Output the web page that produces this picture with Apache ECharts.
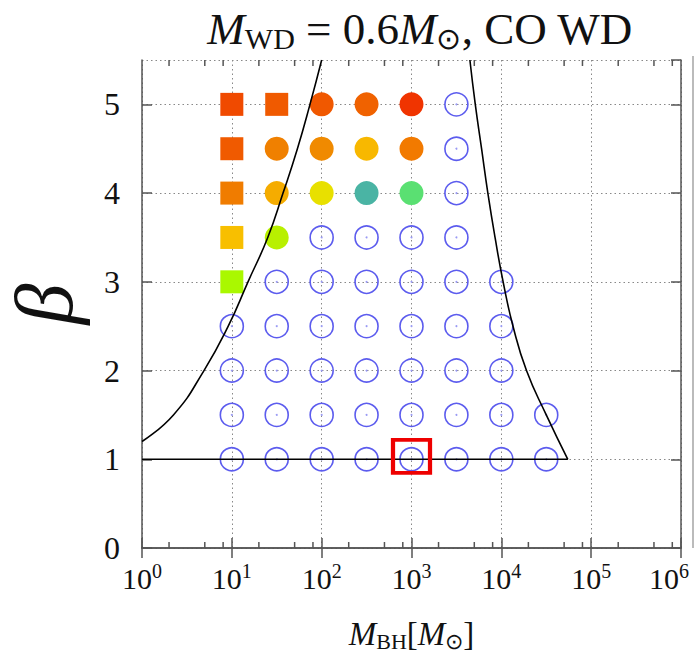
<!DOCTYPE html>
<html>
<head>
<meta charset="utf-8">
<script src="https://cdn.jsdelivr.net/npm/echarts@6/dist/echarts.min.js"></script>
<style>
html, body { margin: 0; padding: 0; background: #fff; }
#main { width: 697px; height: 665px; }
</style>
</head>
<body>
<div id="main"></div>
<script>
var chartDom = document.getElementById('main');
var myChart = echarts.init(chartDom, null, { renderer: 'svg' });
var option;

const FONT = 'Liberation Serif';

// tick labels
const yTickLabels = [0, 1, 2, 3, 4, 5];

// filled squares [M_BH, beta] and their colours
const squarePoints = [[10, 5], [31.6, 5], [10, 4.5], [10, 4], [10, 3.5], [10, 3]];
const squareColors = ['#f04a00', '#f05a00', '#f05a00', '#f07c00', '#f8bf00', '#aaf800'];

// filled circles [M_BH, beta] and their colours
const filledPoints = [
    [100, 5], [316, 5], [1000, 5],
    [31.6, 4.5], [100, 4.5], [316, 4.5], [1000, 4.5],
    [31.6, 4], [100, 4], [316, 4], [1000, 4],
    [31.6, 3.5]
];
const filledColors = [
    '#f05800', '#f06200', '#f03400',
    '#f08000', '#f08a00', '#f8b800', '#f27a00',
    '#f5ac00', '#e8e000', '#4ab4a4', '#5ae072',
    '#b8f000'
];

// open circles [M_BH, beta]
const openPoints = [
    [3162, 5], [3162, 4.5], [3162, 4],
    [100, 3.5], [316, 3.5], [1000, 3.5], [3162, 3.5],
    [31.6, 3], [100, 3], [316, 3], [1000, 3], [3162, 3], [10000, 3],
    [10, 2.5], [31.6, 2.5], [100, 2.5], [316, 2.5], [1000, 2.5], [3162, 2.5], [10000, 2.5],
    [10, 2], [31.6, 2], [100, 2], [316, 2], [1000, 2], [3162, 2], [10000, 2],
    [10, 1.5], [31.6, 1.5], [100, 1.5], [316, 1.5], [1000, 1.5], [3162, 1.5], [10000, 1.5], [31623, 1.5],
    [10, 1], [31.6, 1], [100, 1], [316, 1], [1000, 1], [3162, 1], [10000, 1], [31623, 1]
];

// highlighted run
const highlightPoint = [[1000, 1]];

// boundary curves, read as [log10 M_BH, beta]
const leftCurve = [
    [0, 1.2], [0.35, 1.5], [0.69, 2.0], [0.96, 2.5], [1.18, 3.0],
    [1.4, 3.5], [1.57, 4.0], [1.73, 4.5], [1.87, 5.0], [2.0, 5.5]
];
const rightCurve = [
    [3.65, 5.5], [3.71, 5.0], [3.78, 4.5], [3.85, 4.0], [3.93, 3.5],
    [4.02, 3.0], [4.13, 2.5], [4.28, 2.0], [4.5, 1.5], [4.74, 1.0]
];
const bottomLine = [[0, 1], [4.74, 1]];

// minor tick positions on the x axis
const minorTickMasses = [];
[1, 10, 100, 1000, 10000, 100000].forEach(function (d) {
    [2, 5, 8].forEach(function (m) { minorTickMasses.push(d * m); });
});

const fromLog = function (arr) {
    return arr.map(function (p) { return [Math.pow(10, p[0]), p[1]]; });
};

const axisColor = '#555';
const gridLine = { show: true, lineStyle: { color: '#888', width: 1, type: [1.5, 3] } };

option = {
    animation: false,
    backgroundColor: '#fff',
    title: {
        text: '{i|M}{sub|WD}{n| = 0.6}{i|M}{sub|⊙}{n|, CO WD}',
        left: 415,
        top: 0,
        textAlign: 'center',
        textStyle: {
            fontWeight: 'normal',
            rich: {
                i: { fontFamily: FONT, fontStyle: 'italic', fontWeight: 'normal', fontSize: 45, color: '#111' },
                n: { fontFamily: FONT, fontWeight: 'normal', fontSize: 45, color: '#111' },
                sub: { fontFamily: FONT, fontWeight: 'normal', fontSize: 30, color: '#111', padding: [18, 0, 0, 0] }
            }
        }
    },
    grid: { left: 142, right: 16, top: 60, bottom: 117, containLabel: false, outerBoundsMode: 'none' },
    xAxis: [
        {
            type: 'log',
            logBase: 10,
            min: 1,
            max: 1e6,
            splitNumber: 6,
            name: '{i|M}{sub|BH}{n|[}{i|M}{sub|⊙}{n|]}',
            nameLocation: 'middle',
            nameGap: 68,
            nameTextStyle: {
                rich: {
                    i: { fontFamily: FONT, fontStyle: 'italic', fontSize: 33, color: '#111' },
                    n: { fontFamily: FONT, fontSize: 33, color: '#111' },
                    sub: { fontFamily: FONT, fontSize: 22, color: '#111', padding: [14, 0, 0, 0] }
                }
            },
            axisLine: { lineStyle: { color: axisColor, width: 1.5 } },
            axisTick: { inside: true, length: 10, lineStyle: { color: axisColor, width: 1.5 } },
            splitLine: gridLine,
            axisLabel: {
                margin: 13,
                formatter: function (v) {
                    const e = Math.round(Math.log10(v));
                    // the last label is nudged left so it stays inside the page
                    return '{b|10}{s|' + e + '}' + (e === 6 ? '{pad|}' : '');
                },
                rich: {
                    b: { fontFamily: FONT, fontSize: 30, color: '#111' },
                    s: { fontFamily: FONT, fontSize: 20, color: '#111', padding: [0, 0, 15, 0] },
                    pad: { width: 24 }
                }
            }
        },
        {
            type: 'log',
            logBase: 10,
            min: 1,
            max: 1e6,
            splitNumber: 6,
            position: 'top',
            axisLine: { lineStyle: { color: axisColor, width: 1.5 } },
            axisTick: { inside: true, length: 10, lineStyle: { color: axisColor, width: 1.5 } },
            axisLabel: { show: false },
            splitLine: { show: false }
        }
    ],
    yAxis: [
        {
            type: 'value',
            min: 0,
            max: 5.5,
            interval: 1,
            name: 'β',
            nameLocation: 'middle',
            nameGap: 56,
            nameTextStyle: { fontFamily: FONT, fontStyle: 'italic', fontSize: 82, lineHeight: 84, color: '#111' },
            axisLine: { lineStyle: { color: axisColor, width: 1.5 } },
            axisTick: { inside: true, length: 10, lineStyle: { color: axisColor, width: 1.5 } },
            splitLine: gridLine,
            axisLabel: {
                margin: 22,
                showMaxLabel: false,
                fontFamily: FONT,
                fontSize: 32,
                color: '#111',
                formatter: function (v) { return yTickLabels.indexOf(v) >= 0 ? String(v) : ''; }
            }
        },
        {
            type: 'value',
            min: 0,
            max: 5.5,
            interval: 1,
            position: 'right',
            axisLine: { lineStyle: { color: axisColor, width: 1.5 } },
            axisTick: { inside: true, length: 10, lineStyle: { color: axisColor, width: 1.5 } },
            axisLabel: { show: false },
            splitLine: { show: false }
        }
    ],
    graphic: [
        {
            type: 'line',
            shape: { x1: 693, y1: 56, x2: 693, y2: 548 },
            style: { stroke: '#bbb', lineWidth: 2 }
        }
    ],
    series: [
        {
            type: 'custom',
            silent: true,
            data: minorTickMasses.map(function (m) { return [m, 0]; }),
            renderItem: function (params, api) {
                const b = api.coord([api.value(0), 0]);
                const t = api.coord([api.value(0), 5.5]);
                return {
                    type: 'group',
                    children: [
                        { type: 'line', shape: { x1: b[0], y1: b[1], x2: b[0], y2: b[1] - 6 }, style: { stroke: axisColor, lineWidth: 1.5 } },
                        { type: 'line', shape: { x1: t[0], y1: t[1], x2: t[0], y2: t[1] + 6 }, style: { stroke: axisColor, lineWidth: 1.5 } }
                    ]
                };
            }
        },
        {
            type: 'line',
            data: fromLog(leftCurve),
            smooth: true,
            symbol: 'none',
            lineStyle: { color: '#000', width: 1.6 },
            z: 5
        },
        {
            type: 'line',
            data: fromLog(rightCurve),
            smooth: true,
            symbol: 'none',
            lineStyle: { color: '#000', width: 1.6 },
            z: 5
        },
        {
            type: 'line',
            data: fromLog(bottomLine),
            symbol: 'none',
            lineStyle: { color: '#000', width: 1.6 },
            z: 5
        },
        {
            type: 'scatter',
            symbol: 'rect',
            symbolSize: 23,
            data: squarePoints.map(function (p, i) {
                return { value: p, itemStyle: { color: squareColors[i], opacity: 1 } };
            }),
            z: 3
        },
        {
            type: 'scatter',
            symbol: 'circle',
            symbolSize: 24,
            data: filledPoints.map(function (p, i) {
                return { value: p, itemStyle: { color: filledColors[i], opacity: 1 } };
            }),
            z: 3
        },
        {
            type: 'scatter',
            symbol: 'circle',
            symbolSize: 23,
            data: openPoints,
            itemStyle: { color: 'rgba(0,0,0,0)', borderColor: '#5c5cee', borderWidth: 1.6, opacity: 1 },
            z: 3
        },
        {
            type: 'scatter',
            symbol: 'circle',
            symbolSize: 2,
            data: openPoints,
            itemStyle: { color: '#9a9af4', opacity: 1 },
            z: 3
        },
        {
            type: 'scatter',
            symbol: 'rect',
            symbolSize: [37, 33],
            symbolOffset: [0, -3],
            data: highlightPoint,
            itemStyle: { color: 'rgba(0,0,0,0)', borderColor: '#ee0000', borderWidth: 4, opacity: 1 },
            z: 6
        }
    ]
};

option && myChart.setOption(option);
</script>
</body>
</html>
